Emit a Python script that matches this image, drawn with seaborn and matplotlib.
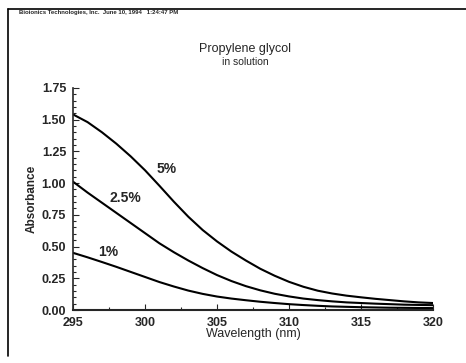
import pandas as pd
import matplotlib.pyplot as plt
import seaborn as sns
from matplotlib.ticker import MultipleLocator
from matplotlib.lines import Line2D

# wavelength grid (nm) and absorbance
wavelength = [295, 296, 297, 298, 299, 300, 301, 302, 303, 304, 305, 306, 307,
              308, 309, 310, 311, 312, 313, 314, 315, 316, 317, 318, 319, 320]

abs_5 = [1.54, 1.48, 1.40, 1.31, 1.21, 1.10, 0.978, 0.853, 0.735, 0.63, 0.54, 0.46, 0.39,
         0.325, 0.27, 0.222, 0.183, 0.152, 0.13, 0.113, 0.10, 0.088, 0.078, 0.068, 0.06, 0.055]
abs_25 = [1.01, 0.925, 0.845, 0.765, 0.685, 0.605, 0.525, 0.455, 0.39, 0.33, 0.275, 0.228, 0.188,
          0.155, 0.128, 0.107, 0.09, 0.078, 0.068, 0.06, 0.055, 0.05, 0.046, 0.042, 0.04, 0.038]
abs_1 = [0.45, 0.415, 0.378, 0.34, 0.30, 0.26, 0.22, 0.185, 0.153, 0.127, 0.106, 0.09, 0.077,
         0.065, 0.055, 0.046, 0.039, 0.033, 0.028, 0.025, 0.022, 0.02, 0.018, 0.017, 0.016, 0.015]

series = ["5%", "2.5%", "1%"]
label_pos = {"5%": (301.5, 1.11), "2.5%": (298.6, 0.88), "1%": (297.4, 0.46)}

df = pd.DataFrame({
    "Wavelength": wavelength * 3,
    "Absorbance": abs_5 + abs_25 + abs_1,
    "conc": [s for s in series for _ in wavelength],
})

sns.set_style("ticks")
plt.rcParams["font.family"] = ["Liberation Sans", "DejaVu Sans"]

fig = plt.figure(figsize=(4.66, 3.63), dpi=100)
ax = fig.add_axes([0.157, 0.146, 0.772, 0.612])

sns.lineplot(data=df, x="Wavelength", y="Absorbance", hue="conc",
             palette=["black"] * 3, linewidth=1.5, legend=False, ax=ax)

for s in series:
    x, y = label_pos[s]
    ax.text(x, y, s, fontsize=10, fontweight="bold", ha="center", va="center")

ax.set_xlim(295, 320)
ax.set_ylim(0, 1.75)
ax.xaxis.set_major_locator(MultipleLocator(5))
ax.xaxis.set_minor_locator(MultipleLocator(2.5))
ax.yaxis.set_major_locator(MultipleLocator(0.25))
ax.yaxis.set_minor_locator(MultipleLocator(0.05))
ax.yaxis.set_major_formatter(lambda v, p: f"{v:.2f}")
ax.tick_params(which="both", direction="in", width=0.8)
ax.tick_params(which="major", length=4, labelsize=9)
ax.tick_params(which="minor", length=2)
ax.tick_params(axis="x", which="major", pad=5)
ax.tick_params(axis="y", which="major", pad=5)
for lab in ax.get_xticklabels() + ax.get_yticklabels():
    lab.set_fontweight("bold")
sns.despine(ax=ax)
ax.spines["left"].set_linewidth(1.2)
ax.spines["bottom"].set_linewidth(1.5)

ax.set_xlabel("Wavelength (nm)", fontsize=9, labelpad=-1)
ax.set_ylabel("Absorbance", fontsize=8.5, fontweight="bold", labelpad=3)

fig.text(0.526, 0.865, "Propylene glycol", fontsize=9, ha="center", va="center")
fig.text(0.526, 0.83, "in solution", fontsize=7.5, ha="center", va="center")
fig.text(0.04, 0.965, "Bioionics Technologies, Inc.  June 10, 1994   1:24:47 PM",
         fontsize=4.3, fontweight="bold", ha="left", va="center")

# frame lines of the printout
fig.add_artist(Line2D([0.017, 0.017], [0.02, 0.975], color="black", lw=1.2))
fig.add_artist(Line2D([0.017, 1.0], [0.975, 0.975], color="black", lw=1.2))

fig.savefig("out.png", dpi=100)
